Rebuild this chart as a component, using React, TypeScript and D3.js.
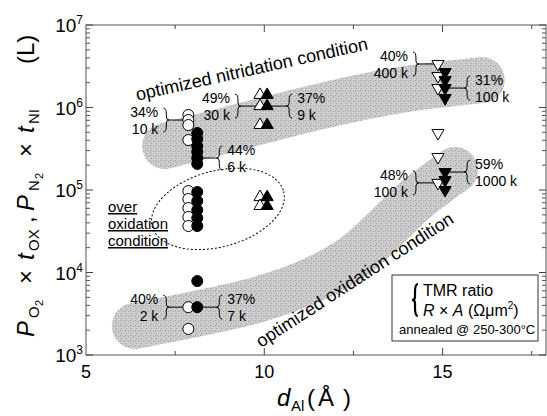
import React from "react";
import * as d3 from "d3";

const W = 547;
const H = 416;
const FONT = "'Liberation Sans', Arial, sans-serif";

// x positions (d_Al, Å) of the marker columns
const xOpenCircle = 7.87;
const xFilledCircle = 8.12;
const xOpenUp = 9.88;
const xFilledUp = 10.08;
const xOpenDown = 14.87;
const xFilledDown = 15.07;

// exposure values (L)
const openCircleValues = [811e3, 705e3, 613e3, 403e3, 97e3, 77.8e3, 60.5e3, 47.1e3, 36.6e3, 3.8e3, 2.07e3];
const filledCircleValues = [491e3, 415e3, 341e3, 289e3, 244e3, 207e3, 94.6e3, 73.6e3, 57.3e3, 45.8e3, 36.6e3, 7.88e3, 3.8e3];
const upTriangleValues = [1.42e6, 1.04e6, 614e3, 82e3, 64e3];
const openDownValues = [3.37e6, 2.41e6, 1.72e6, 491e3, 251e3, 122e3];
const filledDownValues = [2.69e6, 2.15e6, 1.72e6, 1.3e6, 165e3, 132e3, 100e3];

// shaded condition bands (centre lines, data coords)
const nitridationBand: [number, number][] = [
  [7.22, 341e3], [9.6, 631e3], [11.84, 1.1e6], [13.81, 1.63e6], [16.1, 2.15e6],
];
const oxidationBand: [number, number][] = [
  [6.37, 2.25e3], [8.2, 3.23e3], [9.88, 4.78e3], [11.42, 8.34e3], [12.54, 15.8e3],
  [13.44, 35.6e3], [14.23, 75.7e3], [15.35, 175e3],
];
const overOxidationCenter: [number, number] = [8.7, 59e3];

const annotations = [
  { pct: "34%", ra: "10 k", x: xOpenCircle, v: 705e3, side: "left" },
  { pct: "49%", ra: "30 k", x: xOpenUp, v: 1.04e6, side: "left" },
  { pct: "37%", ra: "9 k", x: xFilledUp, v: 1.04e6, side: "right" },
  { pct: "44%", ra: "6 k", x: xFilledCircle, v: 244e3, side: "right" },
  { pct: "40%", ra: "2 k", x: xOpenCircle, v: 3.8e3, side: "left" },
  { pct: "37%", ra: "7 k", x: xFilledCircle, v: 3.8e3, side: "right" },
  { pct: "40%", ra: "400 k", x: xOpenDown, v: 3.37e6, side: "left" },
  { pct: "31%", ra: "100 k", x: xFilledDown, v: 1.72e6, side: "right" },
  { pct: "48%", ra: "100 k", x: xOpenDown, v: 122e3, side: "left" },
  { pct: "59%", ra: "1000 k", x: xFilledDown, v: 165e3, side: "right" },
];

const xTicks = [7.5, 10, 12.5, 15, 17.5];
const xMajor = [10, 15];
const xTickLabels = [5, 10, 15];
const yDecades = [3, 4, 5, 6, 7];

function bracePath(x: number, y: number, h: number, dir: number) {
  const w = 3 * dir;
  return `M${x},${y - h / 2} Q${x + w},${y - h / 2} ${x + w},${y - h / 4} L${x + w},${y - 3} Q${x + w},${y} ${x + 2 * w},${y} Q${x + w},${y} ${x + w},${y + 3} L${x + w},${y + h / 4} Q${x + w},${y + h / 2} ${x},${y + h / 2}`;
}

export default function App() {
  const x = d3.scaleLinear().domain([5, 17.9]).range([86, 546]);
  const y = d3.scaleLog().domain([1e3, 1e7]).range([355, 25]);
  const [x0, x1] = x.range();
  const [y0, y1] = y.range();

  const band = d3
    .line<[number, number]>()
    .x((d) => x(d[0]))
    .y((d) => y(d[1]))
    .curve(d3.curveCatmullRom.alpha(0.5));

  const triPath = d3.symbol().type(d3.symbolTriangle).size(64)() as string;

  const yMinor: number[] = [];
  for (let e = 3; e < 7; e++) for (let k = 2; k <= 9; k++) yMinor.push(k * Math.pow(10, e));

  const [ecx, ecy] = [x(overOxidationCenter[0]), y(overOxidationCenter[1])];

  return (
    <svg width={W} height={H} style={{ position: "absolute", left: 0, top: 0, background: "#fff" }} fontFamily={FONT}>
      <defs>
        <pattern id="stipple" width={5} height={5} patternUnits="userSpaceOnUse">
          <rect width={5} height={5} fill="#cacaca" />
          <rect x={0} y={0} width={1} height={1} fill="#9c9c9c" />
          <rect x={3} y={1} width={1} height={1} fill="#a4a4a4" />
          <rect x={1} y={3} width={1} height={1} fill="#a0a0a0" />
          <rect x={4} y={4} width={1} height={1} fill="#e2e2e2" />
          <rect x={2} y={2} width={1} height={1} fill="#e0e0e0" />
        </pattern>
      </defs>
      {/* bands */}
      <path d={band(nitridationBand) as string} fill="none" stroke="url(#stipple)" strokeWidth={46} strokeLinecap="round" strokeLinejoin="round" />
      <path d={band(oxidationBand) as string} fill="none" stroke="url(#stipple)" strokeWidth={46} strokeLinecap="round" strokeLinejoin="round" />

      {/* over oxidation ellipse */}
      <ellipse cx={ecx} cy={ecy} rx={68} ry={38} transform={`rotate(-15 ${ecx} ${ecy})`} fill="none" stroke="#000" strokeWidth={1} strokeDasharray="2,2" />

      {/* band labels */}
      <text x={253} y={75} fontSize={18} textAnchor="middle" transform="rotate(-12.5 253 75)">optimized nitridation condition</text>
      <text x={358} y={285} fontSize={18} textAnchor="middle" transform="rotate(-33 358 285)">optimized oxidation condition</text>

      {/* over oxidation label */}
      {["over", "oxidation", "condition"].map((t, i) => (
        <text key={t} x={108} y={212 + i * 17} fontSize={15} textDecoration="underline">{t}</text>
      ))}

      {/* annotations */}
      {annotations.map((a, i) => {
        const px = x(a.x);
        const py = y(a.v);
        const dir = a.side === "left" ? -1 : 1;
        const tip = px + dir * 19;
        const body = tip + dir * 6;
        const tx = body + dir * 5;
        return (
          <g key={i}>
            <line x1={px} y1={py} x2={tip} y2={py} stroke="#000" strokeWidth={1} />
            <path d={bracePath(body, py, 24, -dir)} fill="none" stroke="#000" strokeWidth={1} />
            <text x={tx} y={py - 3} fontSize={14} textAnchor={dir < 0 ? "end" : "start"}>{a.pct}</text>
            <text x={tx} y={py + 14} fontSize={14} textAnchor={dir < 0 ? "end" : "start"}>{a.ra}</text>
          </g>
        );
      })}

      {/* markers */}
      {openCircleValues.map((v, i) => (
        <circle key={`oc${i}`} cx={x(xOpenCircle)} cy={y(v)} r={5.5} fill="#fff" stroke="#000" strokeWidth={1} />
      ))}
      {filledCircleValues.map((v, i) => (
        <circle key={`fc${i}`} cx={x(xFilledCircle)} cy={y(v)} r={5.5} fill="#000" stroke="#000" strokeWidth={1} />
      ))}
      {upTriangleValues.map((v, i) => (
        <g key={`ut${i}`}>
          <path d={triPath} transform={`translate(${x(xOpenUp)},${y(v)})`} fill="#fff" stroke="#000" strokeWidth={1} />
          <path d={triPath} transform={`translate(${x(xFilledUp)},${y(v)})`} fill="#000" stroke="#000" strokeWidth={1} />
        </g>
      ))}
      {openDownValues.map((v, i) => (
        <path key={`od${i}`} d={triPath} transform={`translate(${x(xOpenDown)},${y(v)}) rotate(180)`} fill="#fff" stroke="#000" strokeWidth={1} />
      ))}
      {filledDownValues.map((v, i) => (
        <path key={`fd${i}`} d={triPath} transform={`translate(${x(xFilledDown)},${y(v)}) rotate(180)`} fill="#000" stroke="#000" strokeWidth={1} />
      ))}

      {/* frame */}
      <rect x={x0} y={y1} width={x1 - x0} height={y0 - y1} fill="none" stroke="#555" strokeWidth={1} />
      {xTicks.map((t) => {
        const len = xMajor.includes(t) ? 7 : 4;
        return (
          <g key={`xt${t}`} stroke="#444">
            <line x1={x(t)} x2={x(t)} y1={y0} y2={y0 - len} />
            <line x1={x(t)} x2={x(t)} y1={y1} y2={y1 + len} />
          </g>
        );
      })}
      {yDecades.map((e) => (
        <g key={`yt${e}`} stroke="#444">
          <line x1={x0} x2={x0 + 7} y1={y(Math.pow(10, e))} y2={y(Math.pow(10, e))} />
          <line x1={x1} x2={x1 - 7} y1={y(Math.pow(10, e))} y2={y(Math.pow(10, e))} />
        </g>
      ))}
      {yMinor.map((v) => (
        <g key={`ym${v}`} stroke="#555">
          <line x1={x0} x2={x0 + 4} y1={y(v)} y2={y(v)} />
          <line x1={x1} x2={x1 - 4} y1={y(v)} y2={y(v)} />
        </g>
      ))}

      {/* tick labels */}
      {xTickLabels.map((t) => (
        <text key={`xl${t}`} x={x(t)} y={378} fontSize={18} textAnchor="middle">{t}</text>
      ))}
      {yDecades.map((e) => (
        <text key={`yl${e}`} x={83} y={y(Math.pow(10, e)) + 7} fontSize={19} textAnchor="end">
          10<tspan fontSize={12} dy={-8}>{e}</tspan>
        </text>
      ))}

      {/* axis titles */}
      <text transform="translate(34,337) rotate(-90)" fontSize={24}>
        <tspan x={0} y={0} fontStyle="italic">P</tspan>
        <tspan x={19} y={5} fontSize={15}>O</tspan>
        <tspan x={31} y={9} fontSize={11}>2</tspan>
        <tspan x={53} y={0}>×</tspan>
        <tspan x={77} y={0} fontStyle="italic">t</tspan>
        <tspan x={86} y={5} fontSize={15}>OX</tspan>
        <tspan x={114} y={0}>,</tspan>
        <tspan x={126} y={0} fontStyle="italic">P</tspan>
        <tspan x={146} y={5} fontSize={15}>N</tspan>
        <tspan x={158} y={9} fontSize={11}>2</tspan>
        <tspan x={180} y={0}>×</tspan>
        <tspan x={204} y={0} fontStyle="italic">t</tspan>
        <tspan x={213} y={5} fontSize={15}>NI</tspan>
        <tspan x={273} y={0}>(L)</tspan>
      </text>
      <text y={406} fontSize={24}>
        <tspan x={277} fontStyle="italic">d</tspan>
        <tspan x={291} dy={5} fontSize={15}>Al</tspan>
        <tspan x={307} dy={-5}>(</tspan>
        <tspan x={318}>Å</tspan>
        <tspan x={343}>)</tspan>
      </text>

      {/* legend */}
      <rect x={392} y={275} width={146} height={66} fill="#fff" stroke="#333" strokeWidth={1} />
      <path d={bracePath(418, 300, 32, -1)} fill="none" stroke="#000" strokeWidth={2.2} />
      <text x={423} y={296} fontSize={16}>TMR ratio</text>
      <text x={423} y={316} fontSize={16}>
        <tspan fontStyle="italic">R</tspan> × <tspan fontStyle="italic">A</tspan> (Ωμm<tspan fontSize={10} dy={-7}>2</tspan><tspan dy={7}>)</tspan>
      </text>
      <text x={399} y={334} fontSize={13}>annealed @ 250-300°C</text>
    </svg>
  );
}
